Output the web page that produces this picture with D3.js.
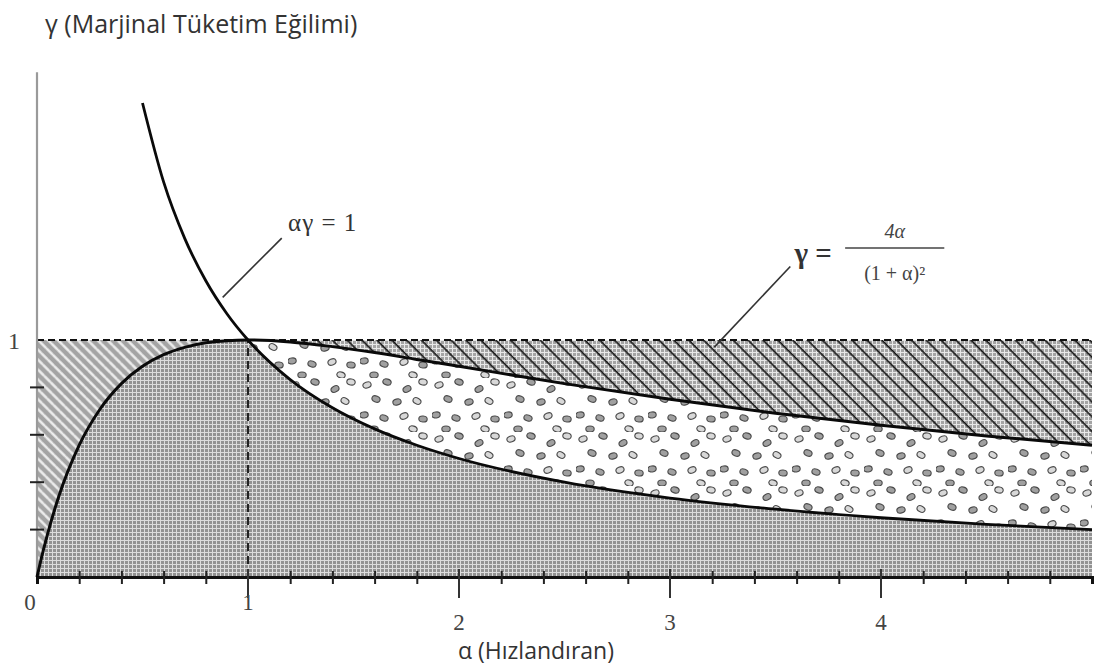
<!DOCTYPE html>
<html>
<head>
<meta charset="utf-8">
<script src="https://cdn.jsdelivr.net/npm/d3@7"></script>
<style>
  body { margin: 0; background: #fff; }
  svg { display: block; }
</style>
</head>
<body>
<svg id="chart"></svg>
<script>
// values
var alphaVals  = [0, 0.02, 0.05, 0.1, 0.2, 0.3, 0.4, 0.5, 0.6, 0.7, 0.8, 0.9, 1, 1.2, 1.4, 1.6, 1.8, 2, 2.5, 3, 3.5, 4, 4.5, 5]
// gamma = 4a/(1+a)^2 boundary
var gammaUpper = [0, 0.077, 0.181, 0.331, 0.556, 0.710, 0.816, 0.889, 0.938, 0.969, 0.988, 0.997, 1, 0.992, 0.972, 0.947, 0.918, 0.889, 0.816, 0.750, 0.691, 0.640, 0.595, 0.556]
// a*gamma = 1 boundary
var gammaHyper = [null, null, null, null, null, null, null, 2.0, 1.667, 1.429, 1.25, 1.111, 1, 0.833, 0.714, 0.625, 0.556, 0.5, 0.4, 0.333, 0.286, 0.25, 0.222, 0.2]

var xTickLabels = [0, 1, 2, 3, 4]
var xMinorTicks = [0.2, 0.4, 0.6, 0.8, 1.2, 1.4, 1.6, 1.8, 2.2, 2.4, 2.6, 2.8, 3.2, 3.4, 3.6, 3.8, 4.2, 4.4, 4.6, 4.8]
var yTickLabels = [1]
var yMinorTicks = [0.2, 0.4, 0.6, 0.8]

var width = 1099, height = 668
var svg = d3.select('svg#chart').attr('width', width).attr('height', height)

var x = d3.scaleLinear().domain([0, 5]).range([37, 1092])
var y = d3.scaleLinear().domain([0, 1]).range([577, 340])

var pts = alphaVals.map(function(a, i) {
  return {a: a, up: gammaUpper[i], hy: gammaHyper[i]}
})

// ---- patterns ----
var defs = svg.append('defs')

var grid = defs.append('pattern').attr('id', 'grid')
  .attr('patternUnits', 'userSpaceOnUse').attr('width', 4).attr('height', 4)
grid.append('rect').attr('width', 4).attr('height', 4).attr('fill', '#929292')
grid.append('path').attr('d', 'M0 0.5H4M0.5 0V4').attr('stroke', '#dcdcdc').attr('stroke-width', 1)

var gridLight = defs.append('pattern').attr('id', 'gridLight')
  .attr('patternUnits', 'userSpaceOnUse').attr('width', 4).attr('height', 4)
gridLight.append('rect').attr('width', 4).attr('height', 4).attr('fill', '#a4a4a4')
gridLight.append('path').attr('d', 'M0 0.5H4M0.5 0V4').attr('stroke', '#e8e8e8').attr('stroke-width', 1)

var hatch = defs.append('pattern').attr('id', 'hatch')
  .attr('patternUnits', 'userSpaceOnUse').attr('width', 10.5).attr('height', 10)
  .attr('patternTransform', 'rotate(-45)')
hatch.append('line').attr('x1', 5).attr('x2', 5).attr('y1', 0).attr('y2', 10)
  .attr('stroke', '#161616').attr('stroke-width', 1.7)

var leftHatch = defs.append('pattern').attr('id', 'leftHatch')
  .attr('patternUnits', 'userSpaceOnUse').attr('width', 7).attr('height', 9)
  .attr('patternTransform', 'rotate(-45)')
leftHatch.append('rect').attr('width', 7).attr('height', 9).attr('fill', '#a4a4a4')
leftHatch.append('line').attr('x1', 3.5).attr('x2', 3.5).attr('y1', 1).attr('y2', 8)
  .attr('stroke', '#f2f2f2').attr('stroke-width', 2.4).attr('stroke-linecap', 'round')

var dots = defs.append('pattern').attr('id', 'dots')
  .attr('patternUnits', 'userSpaceOnUse').attr('width', 72).attr('height', 54)
dots.append('rect').attr('width', 72).attr('height', 54).attr('fill', '#fff')
var dotSpots = [[7, 7, -20], [27, 4, 15], [47, 11, -30], [63, 4, 10], [16, 21, 25], [37, 24, -15],
                [57, 23, 30], [4, 37, -10], [24, 40, 20], [44, 38, -25], [63, 41, 5], [14, 51, 0], [53, 51, 15]]
dots.selectAll('ellipse').data(dotSpots).join('ellipse')
  .attr('cx', function(d) { return d[0] }).attr('cy', function(d) { return d[1] })
  .attr('rx', 4.2).attr('ry', 3)
  .attr('transform', function(d) { return 'rotate(' + d[2] + ' ' + d[0] + ' ' + d[1] + ')' })
  .attr('fill', function(d, i) { return i % 3 === 0 ? '#d8d8d8' : '#a0a0a0' })
  .attr('stroke', '#4a4a4a').attr('stroke-width', 1.1)

// ---- regions ----
var area = d3.area().curve(d3.curveMonotoneX).x(function(d) { return x(d.a) })

// gray grid below both curves
svg.append('path').datum(pts)
  .attr('d', area.y0(y(0)).y1(function(d) { return y(Math.min(d.up, d.hy == null ? 9 : d.hy)) }))
  .attr('fill', 'url(#grid)')

// dotted band between hyperbola and upper curve
var right = pts.filter(function(d) { return d.a >= 1 })
svg.append('path').datum(right)
  .attr('d', d3.area().curve(d3.curveMonotoneX).x(function(d) { return x(d.a) })
    .y0(function(d) { return y(d.hy) }).y1(function(d) { return y(d.up) }))
  .attr('fill', 'url(#dots)')

// hatched band above upper curve, right of 1
var topArea = d3.area().curve(d3.curveMonotoneX).x(function(d) { return x(d.a) })
  .y0(function(d) { return y(d.up) }).y1(y(1))
svg.append('path').datum(right).attr('d', topArea).attr('fill', 'url(#gridLight)')
svg.append('path').datum(right).attr('d', topArea).attr('fill', 'url(#hatch)')

// left hatched region
var left = pts.filter(function(d) { return d.a <= 1 })
svg.append('path').datum(left).attr('d', topArea).attr('fill', 'url(#leftHatch)')

// ---- dashed guides ----
svg.append('line')
  .attr('x1', x(0)).attr('x2', x(5)).attr('y1', y(1)).attr('y2', y(1))
  .attr('stroke', '#111').attr('stroke-width', 2).attr('stroke-dasharray', '7,4')
svg.append('line')
  .attr('x1', x(1)).attr('x2', x(1)).attr('y1', y(0)).attr('y2', y(1))
  .attr('stroke', '#222').attr('stroke-width', 2).attr('stroke-dasharray', '8,5')

// ---- axes ----
svg.append('line')
  .attr('x1', x(0)).attr('x2', x(0)).attr('y1', y(0)).attr('y2', y(2.13))
  .attr('stroke', '#9a9a9a').attr('stroke-width', 2.2)

svg.append('g').attr('class', 'y minor').selectAll('line').data(yMinorTicks).join('line')
  .attr('x1', x(0) - 7).attr('x2', x(0) + 7)
  .attr('y1', function(d) { return y(d) }).attr('y2', function(d) { return y(d) })
  .attr('stroke', '#222').attr('stroke-width', 2)

var xAxis = d3.axisBottom(x).tickValues(xMinorTicks).tickSize(7).tickFormat('')
var gx = svg.append('g').attr('class', 'x axis')
  .attr('transform', 'translate(0,' + y(0) + ')')
  .call(xAxis)
gx.select('.domain').attr('stroke', '#111').attr('stroke-width', 3)
gx.selectAll('.tick line').attr('y1', -6).attr('stroke', '#222').attr('stroke-width', 2)

svg.append('g').attr('class', 'x major').selectAll('line').data(xTickLabels.slice(1)).join('line')
  .attr('x1', function(d) { return x(d) }).attr('x2', function(d) { return x(d) })
  .attr('y1', y(0) - 8).attr('y2', y(0) + 21)
  .attr('stroke', '#333').attr('stroke-width', 2)

// tick labels (serif, as in the scan)
svg.append('g').selectAll('text').data(xTickLabels).join('text')
  .attr('x', function(d) { return d === 0 ? x(d) - 7 : x(d) })
  .attr('y', function(d) { return d < 2 ? 610 : 630 })
  .attr('text-anchor', 'middle')
  .attr('font-family', 'Liberation Serif, serif').attr('font-size', 23)
  .attr('fill', '#444')
  .text(function(d) { return d })

svg.append('g').selectAll('text').data(yTickLabels).join('text')
  .attr('x', 14).attr('y', function(d) { return y(d) + 9 })
  .attr('text-anchor', 'middle')
  .attr('font-family', 'Liberation Serif, serif').attr('font-size', 24)
  .attr('fill', '#444')
  .text(function(d) { return d })

// ---- curves ----
svg.append('path').datum(pts)
  .attr('d', d3.line().curve(d3.curveMonotoneX).x(function(d) { return x(d.a) }).y(function(d) { return y(d.up) }))
  .attr('fill', 'none').attr('stroke', '#0a0a0a').attr('stroke-width', 3)

svg.append('path').datum(pts.filter(function(d) { return d.hy != null }))
  .attr('d', d3.line().curve(d3.curveMonotoneX).x(function(d) { return x(d.a) }).y(function(d) { return y(d.hy) }))
  .attr('fill', 'none').attr('stroke', '#0a0a0a').attr('stroke-width', 2.8)

// ---- annotations ----
svg.append('line')
  .attr('x1', x(0.88)).attr('y1', y(1.18)).attr('x2', x(1.16)).attr('y2', y(1.43))
  .attr('stroke', '#333').attr('stroke-width', 1.6)
svg.append('text')
  .attr('x', x(1.19)).attr('y', y(1.46))
  .attr('font-family', 'Liberation Serif, serif').attr('font-size', 25).attr('fill', '#333')
  .attr('letter-spacing', 1)
  .text('αγ = 1')

svg.append('line')
  .attr('x1', x(3.21)).attr('y1', y(0.97)).attr('x2', x(3.57)).attr('y2', y(1.31))
  .attr('stroke', '#333').attr('stroke-width', 1.6)
svg.append('text')
  .attr('x', x(3.59)).attr('y', y(1.325))
  .attr('font-family', 'Liberation Serif, serif').attr('font-size', 29).attr('font-weight', 'bold').attr('fill', '#333')
  .text('γ =')
svg.append('line')
  .attr('x1', x(3.83)).attr('x2', x(4.3)).attr('y1', y(1.388)).attr('y2', y(1.388))
  .attr('stroke', '#444').attr('stroke-width', 1.6)
svg.append('text')
  .attr('x', x(4.065)).attr('y', y(1.43))
  .attr('text-anchor', 'middle')
  .attr('font-family', 'Liberation Serif, serif').attr('font-size', 20).attr('font-style', 'italic').attr('fill', '#444')
  .text('4α')
svg.append('text')
  .attr('x', x(4.065)).attr('y', y(1.253))
  .attr('text-anchor', 'middle')
  .attr('font-family', 'Liberation Serif, serif').attr('font-size', 20).attr('fill', '#444')
  .text('(1 + α)²')

// ---- axis titles ----
svg.append('text')
  .attr('x', 45).attr('y', 33)
  .attr('font-family', 'Open Sans, sans-serif').attr('font-size', 25).attr('fill', '#333')
  .text('γ (Marjinal Tüketim Eğilimi)')

svg.append('text')
  .attr('x', 536).attr('y', 659)
  .attr('text-anchor', 'middle')
  .attr('font-family', 'Open Sans, sans-serif').attr('font-size', 23).attr('fill', '#333')
  .text('α (Hızlandıran)')
</script>
</body>
</html>
